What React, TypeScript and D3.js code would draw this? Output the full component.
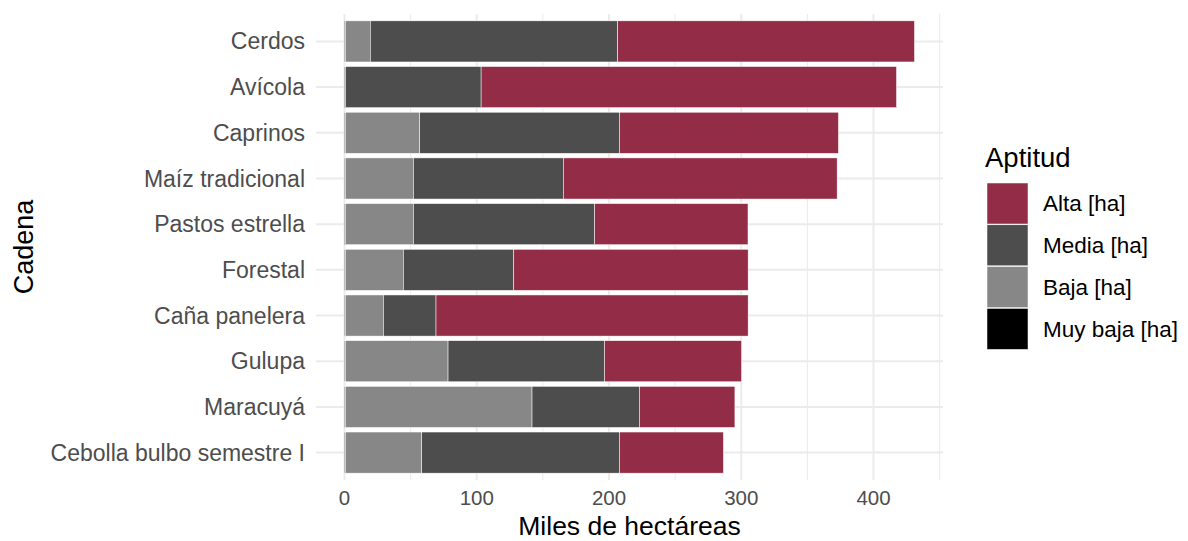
import React from "react";
import * as d3 from "d3";

const categories = [
  "Cerdos",
  "Avícola",
  "Caprinos",
  "Maíz tradicional",
  "Pastos estrella",
  "Forestal",
  "Caña panelera",
  "Gulupa",
  "Maracuyá",
  "Cebolla bulbo semestre I",
];
const muyBaja = [0.8, 0.8, 0.8, 0.8, 0.8, 0.8, 0.8, 0.8, 0.8, 0.8];
const baja = [18.7, 0, 56.1, 51.3, 51.3, 43.7, 28.6, 77.5, 141, 57.6];
const media = [187.1, 102.5, 151, 113.4, 137, 83.5, 39.8, 118.3, 81.2, 149.5];
const alta = [224.4, 314.1, 165.6, 207, 116, 177.2, 236, 103.6, 72.2, 78.6];

const seriesKeys = ["Muy baja [ha]", "Baja [ha]", "Media [ha]", "Alta [ha]"];
const seriesValues = [muyBaja, baja, media, alta];
const colors: Record<string, string> = {
  "Muy baja [ha]": "#000000",
  "Baja [ha]": "#878787",
  "Media [ha]": "#4d4d4d",
  "Alta [ha]": "#932c47",
};
const legendOrder = ["Alta [ha]", "Media [ha]", "Baja [ha]", "Muy baja [ha]"];
const xTicks = [0, 100, 200, 300, 400];
const xMinor = [50, 150, 250, 350, 450];

export default function App() {
  const W = 1188;
  const H = 541;
  const panelLeft = 316;
  const panelRight = 943;
  const panelTop = 14;
  const panelBottom = 480;
  const font = "'Liberation Sans', Arial, sans-serif";

  const rows = categories.map((c, i) => {
    const r: any = { cat: c };
    seriesKeys.forEach((k, j) => (r[k] = seriesValues[j][i]));
    return r;
  });
  const stack = d3.stack<any>().keys(seriesKeys)(rows);
  const maxTotal = d3.max(rows, (r: any) => seriesKeys.reduce((s, k) => s + r[k], 0)) as number;
  const pad = maxTotal * 0.05;
  const x = d3.scaleLinear().domain([-pad, maxTotal + pad]).range([panelLeft, panelRight]);

  const n = categories.length;
  const step = (panelBottom - panelTop) / (n - 1 + 1.2);
  const yCenter = (i: number) => panelTop + step * 0.6 + i * step;
  const bh = step * 0.9;

  return (
    <svg width={W} height={H} style={{ position: "absolute", left: 0, top: 0, background: "#fff" }} fontFamily={font}>
      {/* grid */}
      {xMinor.map((t) => (
        <line key={"m" + t} x1={x(t)} x2={x(t)} y1={panelTop} y2={panelBottom} stroke="#ebebeb" strokeWidth={1} />
      ))}
      {xTicks.map((t) => (
        <line key={"M" + t} x1={x(t)} x2={x(t)} y1={panelTop} y2={panelBottom} stroke="#ebebeb" strokeWidth={2} />
      ))}
      {categories.map((c, i) => (
        <line key={"h" + c} x1={panelLeft} x2={panelRight} y1={yCenter(i)} y2={yCenter(i)} stroke="#ebebeb" strokeWidth={2} />
      ))}
      {/* bars */}
      {stack.map((s) => (
        <g key={s.key} fill={colors[s.key]}>
          {s.map((d, i) => (
            <rect
              key={i}
              x={x(d[0])}
              y={yCenter(i) - bh / 2}
              width={Math.max(0, x(d[1]) - x(d[0]))}
              height={bh}
              stroke="#ffffff"
              strokeWidth={0.5}
            />
          ))}
        </g>
      ))}
      {/* y labels */}
      {categories.map((c, i) => (
        <text key={"y" + c} x={305} y={yCenter(i)} dy="0.35em" textAnchor="end" fontSize={23} fill="#4d4d4d">
          {c}
        </text>
      ))}
      {/* x labels */}
      {xTicks.map((t) => (
        <text key={"xt" + t} x={x(t)} y={505} textAnchor="middle" fontSize={20.5} fill="#4d4d4d">
          {t}
        </text>
      ))}
      <text x={(panelLeft + panelRight) / 2} y={535} textAnchor="middle" fontSize={26.5} fill="#000">
        Miles de hectáreas
      </text>
      <text transform={`translate(33, ${(panelTop + panelBottom) / 2}) rotate(-90)`} textAnchor="middle" fontSize={27} fill="#000">
        Cadena
      </text>
      {/* legend */}
      <text x={985} y={167} fontSize={27.5} fill="#000">
        Aptitud
      </text>
      {legendOrder.map((k, i) => (
        <g key={k} transform={`translate(987, ${183 + i * 41.8})`}>
          <rect width={41} height={41} fill={colors[k]} stroke="#ffffff" strokeWidth={0.5} />
          <text x={56} y={20.5} dy="0.35em" fontSize={22.5} fill="#000">
            {k}
          </text>
        </g>
      ))}
    </svg>
  );
}
